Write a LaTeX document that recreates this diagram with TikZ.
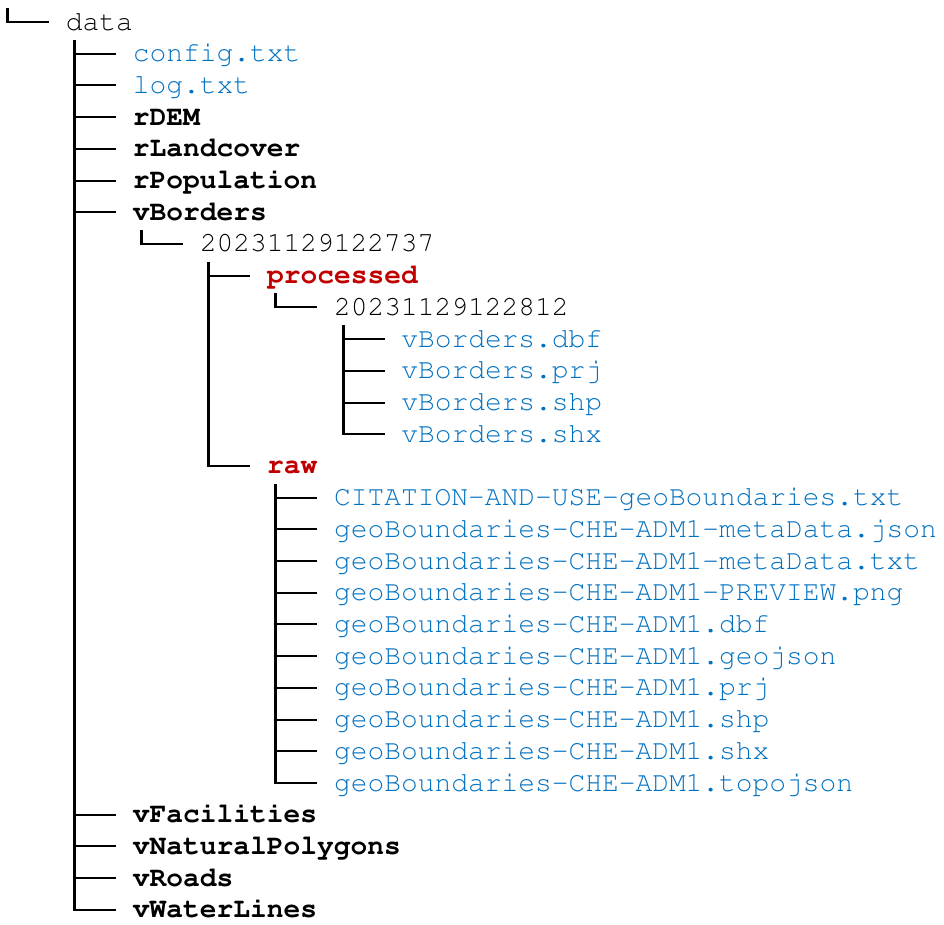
\documentclass[tikz,border=0pt]{standalone}
\usepackage[T1]{fontenc}
\usepackage{courier}
\definecolor{fileblue}{RGB}{0,112,192}
\definecolor{dirred}{RGB}{192,0,0}
\tikzset{
  entry/.style={anchor=base west, inner sep=0pt, font=\fontsize{27.9}{30}\selectfont\ttfamily},
  plain/.style={entry},
  file/.style={entry, text=fileblue},
  dir/.style={entry, font=\fontsize{27.9}{30}\selectfont\ttfamily\bfseries},
  sub/.style={dir, text=dirred},
  hbranch/.style={line width=2pt, line cap=butt},
  vbranch/.style={line width=2.6pt, line cap=butt}
}
% \treerow{name}{level}{row}{style}{text}
\newcommand{\treerow}[5]{%
  \node[#4] (#1) at ({65.6+67.1*#2},{30+31.71*#3}) {#5};
  \coordinate (#1-b) at ({round(49+67.1*#2)},{round(22+31.71*#3)});
}
% \treevert{name}{level of children}{row of first child}
\newcommand{\treevert}[3]{%
  \coordinate (#1-v) at ({round(7+67.1*#2)+0.5},{round(8+31.71*#3)});
}
% \treekids{parent}{last child}{list of children}
\newcommand{\treekids}[3]{%
  \draw[vbranch] (#1-v) -- ([yshift=-1pt]#1-v |- #2-b);
  \foreach \c in {#3}
    \draw[hbranch] ([xshift=-1.3pt]#1-v |- \c-b) -- (\c-b);
}
\begin{document}
\begin{tikzpicture}[x=1pt,y=-1pt]
\useasboundingbox (0,0) rectangle (944,924);
\treerow{data}{0}{0}{plain}{data}
\treerow{config}{1}{1}{file}{config.txt}
\treerow{log}{1}{2}{file}{log.txt}
\treerow{rDEM}{1}{3}{dir}{rDEM}
\treerow{rLand}{1}{4}{dir}{rLandcover}
\treerow{rPop}{1}{5}{dir}{rPopulation}
\treerow{vBorders}{1}{6}{dir}{vBorders}
\treerow{d1}{2}{7}{plain}{20231129122737}
\treerow{processed}{3}{8}{sub}{processed}
\treerow{d2}{4}{9}{plain}{20231129122812}
\treerow{dbf}{5}{10}{file}{vBorders.dbf}
\treerow{prj}{5}{11}{file}{vBorders.prj}
\treerow{shp}{5}{12}{file}{vBorders.shp}
\treerow{shx}{5}{13}{file}{vBorders.shx}
\treerow{raw}{3}{14}{sub}{raw}
\treerow{ra}{4}{15}{file}{CITATION-AND-USE-geoBoundaries.txt}
\treerow{rb}{4}{16}{file}{geoBoundaries-CHE-ADM1-metaData.json}
\treerow{rc}{4}{17}{file}{geoBoundaries-CHE-ADM1-metaData.txt}
\treerow{rd}{4}{18}{file}{geoBoundaries-CHE-ADM1-PREVIEW.png}
\treerow{re}{4}{19}{file}{geoBoundaries-CHE-ADM1.dbf}
\treerow{rf}{4}{20}{file}{geoBoundaries-CHE-ADM1.geojson}
\treerow{rg}{4}{21}{file}{geoBoundaries-CHE-ADM1.prj}
\treerow{rh}{4}{22}{file}{geoBoundaries-CHE-ADM1.shp}
\treerow{ri}{4}{23}{file}{geoBoundaries-CHE-ADM1.shx}
\treerow{rj}{4}{24}{file}{geoBoundaries-CHE-ADM1.topojson}
\treerow{vFac}{1}{25}{dir}{vFacilities}
\treerow{vNat}{1}{26}{dir}{vNaturalPolygons}
\treerow{vRoads}{1}{27}{dir}{vRoads}
\treerow{vWater}{1}{28}{dir}{vWaterLines}
\coordinate (root-v) at (7.5,8);
\treevert{data}{1}{1}
\treevert{vBorders}{2}{7}
\treevert{d1}{3}{8}
\treevert{processed}{4}{9}
\treevert{d2}{5}{10}
\treevert{raw}{4}{15}
\treekids{root}{data}{data}
\treekids{data}{vWater}{config,log,rDEM,rLand,rPop,vBorders,vFac,vNat,vRoads,vWater}
\treekids{vBorders}{d1}{d1}
\treekids{d1}{raw}{processed,raw}
\treekids{processed}{d2}{d2}
\treekids{d2}{shx}{dbf,prj,shp,shx}
\treekids{raw}{rj}{ra,rb,rc,rd,re,rf,rg,rh,ri,rj}
\end{tikzpicture}
\end{document}
